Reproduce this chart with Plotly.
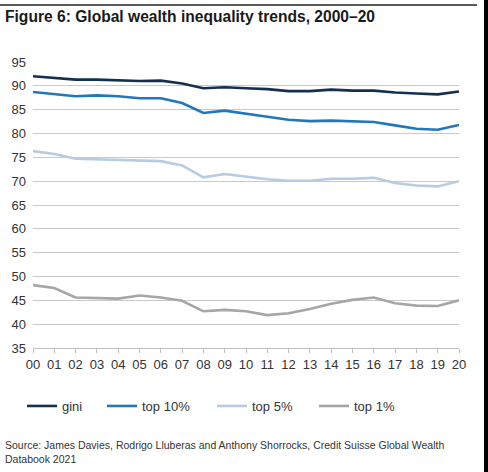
import plotly.graph_objects as go

years = ["00","01","02","03","04","05","06","07","08","09","10",
         "11","12","13","14","15","16","17","18","19","20"]
gini = [92.0, 91.6, 91.3, 91.3, 91.2, 91.0, 91.1, 90.5, 89.5, 89.7, 89.5,
        89.3, 88.9, 88.9, 89.2, 89.0, 89.0, 88.6, 88.4, 88.2, 88.8]
top10 = [88.7, 88.2, 87.8, 88.0, 87.8, 87.4, 87.4, 86.4, 84.3, 84.8, 84.1,
         83.5, 82.9, 82.6, 82.7, 82.5, 82.4, 81.7, 81.0, 80.8, 81.8]
top5 = [76.3, 75.7, 74.7, 74.6, 74.5, 74.4, 74.2, 73.3, 70.8, 71.5, 71.0,
        70.4, 70.1, 70.1, 70.5, 70.5, 70.7, 69.6, 69.1, 68.9, 70.0]
top1 = [48.2, 47.6, 45.6, 45.5, 45.35, 46.0, 45.6, 44.9, 42.7, 43.0, 42.7,
        41.9, 42.3, 43.2, 44.3, 45.1, 45.6, 44.4, 43.9, 43.8, 45.0]
series_names = ["gini", "top 10%", "top 5%", "top 1%"]
colors = ["#13304f", "#2277bb", "#b7cbe4", "#a6a6a6"]
y_ticks = [35, 40, 45, 50, 55, 60, 65, 70, 75, 80, 85, 90, 95]

W, H = 488, 472
ml, mr, mt, mb = 33, 29, 62, 124
pw = W - ml - mr
ph = H - mt - mb

def px2paper_x(px):
    return (px - ml) / pw

def px2paper_y(py):
    return 1 - (py - mt) / ph

legend_ids = ["legend", "legend2", "legend3", "legend4"]
legend_left_px = [22, 102, 212, 314]

xs = list(range(len(years)))
fig = go.Figure()
for name, vals, c, lid in zip(series_names, [gini, top10, top5, top1], colors, legend_ids):
    fig.add_trace(go.Scatter(x=xs, y=vals, mode="lines", name=name, legend=lid,
                             line=dict(color=c, width=2.6)))

legend_layout = {}
for lid, lx in zip(legend_ids, legend_left_px):
    legend_layout[lid] = dict(orientation="h", x=px2paper_x(lx), y=px2paper_y(391),
                              xanchor="left", yanchor="top",
                              bgcolor="rgba(0,0,0,0)",
                              font=dict(size=13, color="#333333"),
                              itemwidth=30)

fig.update_layout(
    width=W, height=H,
    margin=dict(l=ml, r=mr, t=mt, b=mb),
    paper_bgcolor="white", plot_bgcolor="white",
    font=dict(family="Liberation Sans, Arial, sans-serif", size=13, color="#333333"),
    showlegend=True,
    xaxis=dict(range=[0, 20], tickmode="array", tickvals=xs, ticktext=years,
               showgrid=False, zeroline=False, showline=True,
               linecolor="#bfbfbf", linewidth=1,
               ticks="outside", ticklen=4, tickcolor="#bfbfbf",
               tickfont=dict(size=13, color="#333333")),
    yaxis=dict(range=[35, 95], tickmode="array", tickvals=y_ticks,
               showgrid=True, gridcolor="#c9c9c9", gridwidth=1,
               zeroline=False, showline=False, ticks="",
               ticklabelstandoff=6,
               tickfont=dict(size=13, color="#333333")),
    annotations=[
        dict(text="<b>Figure 6: Global wealth inequality trends, 2000–20</b>",
             xref="paper", yref="paper", x=px2paper_x(3), y=px2paper_y(16),
             xanchor="left", yanchor="middle", showarrow=False,
             font=dict(size=15.6, color="#1a1a1a")),
        dict(text="Source: James Davies, Rodrigo Lluberas and Anthony Shorrocks, Credit Suisse Global Wealth<br>Databook 2021",
             xref="paper", yref="paper", x=px2paper_x(3), y=px2paper_y(452),
             xanchor="left", yanchor="middle", align="left", showarrow=False,
             font=dict(size=10.5, color="#333333")),
    ],
    shapes=[
        dict(type="rect", xref="paper", yref="paper", layer="above",
             x0=px2paper_x(0), x1=px2paper_x(477), y0=px2paper_y(4.2), y1=px2paper_y(5.8),
             line=dict(width=0), fillcolor="#222222"),
        dict(type="rect", xref="paper", yref="paper", layer="above",
             x0=px2paper_x(484), x1=px2paper_x(490), y0=px2paper_y(-2), y1=px2paper_y(474),
             line=dict(width=0), fillcolor="black"),
    ],
    **legend_layout,
)

fig.write_html("out.html", config={"displayModeBar": False})
with open("out.html", "r", encoding="utf-8") as f:
    html = f.read()
html = html.replace("<head>", "<head><style>html,body{margin:0;padding:0;overflow:hidden;}</style>", 1)
with open("out.html", "w", encoding="utf-8") as f:
    f.write(html)
